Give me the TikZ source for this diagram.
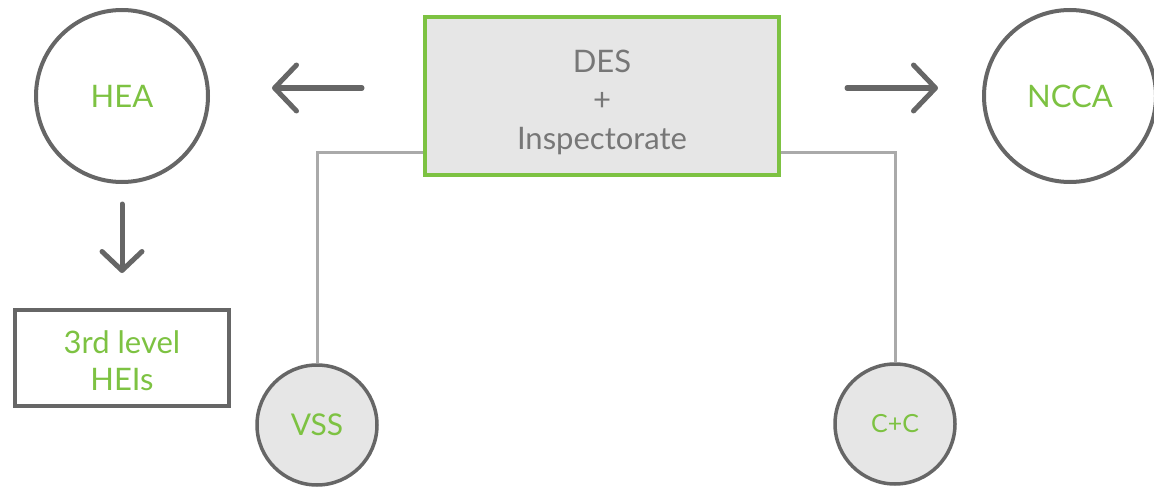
\documentclass[tikz,border=0pt]{standalone}
\usepackage{fontspec}
\setmainfont{Lato}
\usetikzlibrary{arrows.meta}
\definecolor{dgray}{HTML}{666666}
\definecolor{lgray}{HTML}{AAAAAA}
\definecolor{fillg}{HTML}{E6E6E6}
\definecolor{lgreen}{HTML}{7DC242}
\definecolor{tgray}{HTML}{777777}
\tikzset{
  bigcirc/.style={circle, draw=dgray, line width=4pt, minimum size=172pt, inner sep=0pt, text=lgreen, font=\fontsize{31}{36}\selectfont},
  smallcirc/.style={circle, draw=dgray, line width=3.5pt, fill=fillg, minimum size=120pt, inner sep=0pt, text=lgreen, font=\fontsize{26}{30}\selectfont},
  desbox/.style={rectangle, draw=lgreen, line width=4pt, fill=fillg, minimum width=354pt, minimum height=158pt, inner sep=0pt},
  destext/.style={text=tgray, align=center, inner sep=0pt, font=\fontsize{31}{38.5}\selectfont},
  heibox/.style={rectangle, draw=dgray, line width=4.5pt, minimum width=214pt, minimum height=96pt, inner sep=0pt},
  heitext/.style={text=lgreen, align=center, inner sep=0pt, font=\fontsize{31}{37}\selectfont},
  bigarrow/.style={draw=dgray, line width=5pt, line cap=round, -{Straight Barb[length=22pt, width=46pt, line width=5pt, round]}},
  downarrow/.style={draw=dgray, line width=5pt, line cap=round, -{Straight Barb[length=19pt, width=40pt, line width=5pt, round]}},
  conn/.style={draw=lgray, line width=3pt}
}
\begin{document}
\begin{tikzpicture}[x=1pt, y=-1pt]
\useasboundingbox (0,0) rectangle (1154,487);
\node[bigcirc] (hea) at (122,96) {HEA};
\node[bigcirc] (ncca) at (1070,96) {NCCA};
\node[desbox] (des) at (602,96) {};
\node[destext] (destxt) at ([yshift=-6pt]des.center) {DES\\+\\Inspectorate};
\node[heibox] (hei) at (122,358) {};
\node[heitext] (heitxt) at ([yshift=-3pt]hei.center) {3rd level\\HEIs};
\node[smallcirc, font=\fontsize{30}{34}\selectfont] (vss) at (317,425) {VSS};
\node[smallcirc, font=\fontsize{25}{30}\selectfont] (cc) at (895,424) {C+C};
\coordinate (la) at (362,88);
\coordinate (lb) at (272,88);
\coordinate (ra) at (847,88);
\coordinate (rb) at (938,88);
\coordinate (da) at (122,204);
\coordinate (db) at (122,273);
\draw[bigarrow] (la) -- (lb);
\draw[bigarrow] (ra) -- (rb);
\draw[downarrow] (da) -- (db);
\draw[conn] (des.west |- 0,152) -| (vss.north);
\draw[conn] (des.east |- 0,152) -| (cc.north);
\end{tikzpicture}
\end{document}
